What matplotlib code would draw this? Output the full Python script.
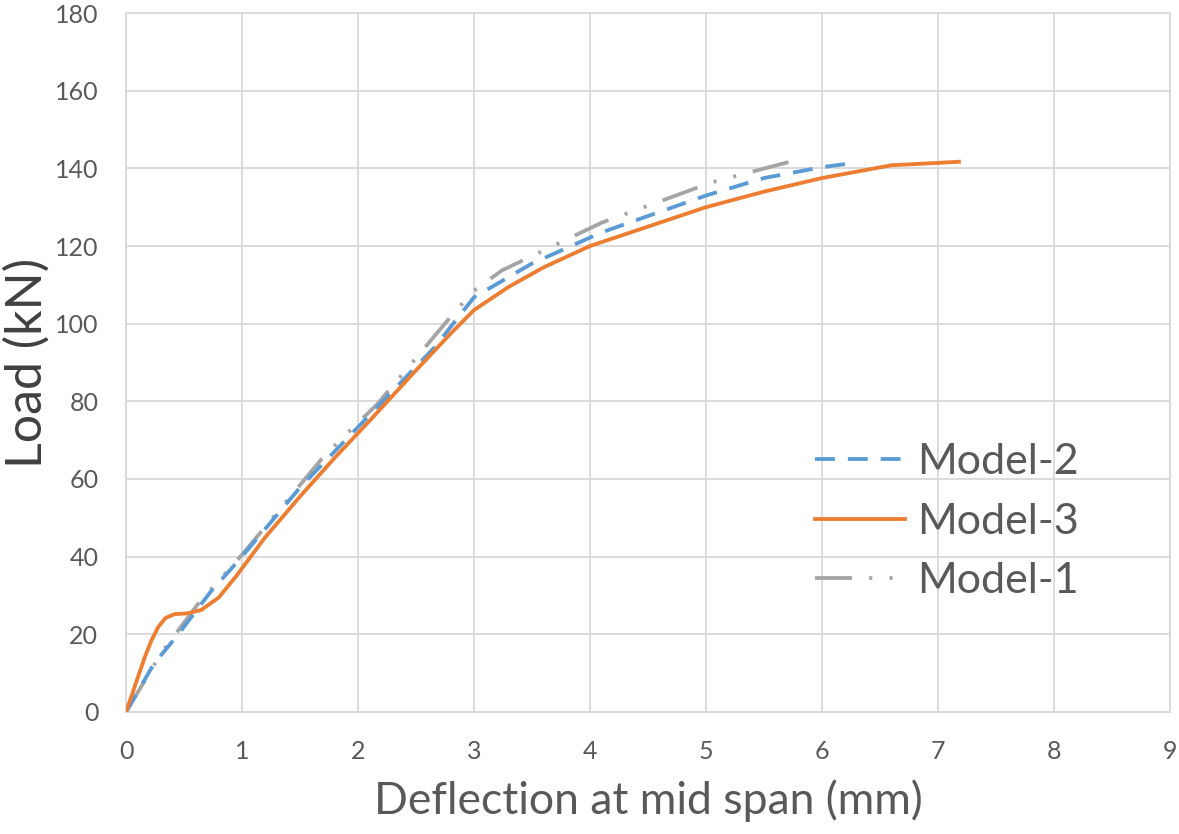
import matplotlib
matplotlib.use("Agg")
import matplotlib.pyplot as plt

# values
m3_x = [0, 0.08, 0.16, 0.22, 0.28, 0.34, 0.42, 0.53, 0.65, 0.8, 0.95, 1.2, 1.5, 1.8, 2.1,
        2.5, 2.8, 3.0, 3.3, 3.6, 4.0, 4.5, 5.0, 5.5, 6.0, 6.6, 7.0, 7.18]
m3_y = [0, 7, 14, 18.5, 22, 24.2, 25.2, 25.4, 26.3, 29.5, 35, 45, 55.5, 65.5, 75,
        88, 97.5, 103.5, 109.5, 114.5, 120, 125, 130, 134, 137.5, 140.8, 141.4, 141.7]

m2_x = [0, 0.24, 0.45, 0.73, 0.97, 1.5, 2.03, 2.66, 3.0, 3.5, 4.1, 5.0, 5.5, 6.0, 6.25]
m2_y = [0, 12.4, 20, 31, 39, 57.8, 74.3, 93.9, 106.8, 115.5, 123.5, 133, 137.5, 140.3, 141.3]

m1_x = [0, 0.3, 0.62, 1.0, 1.71, 2.17, 2.83, 3.0, 3.24, 4.1, 5.05, 5.71]
m1_y = [0, 15, 27.8, 40.5, 66, 79.4, 102.9, 108.5, 113.7, 126, 136.4, 141.6]

x_ticks = list(range(0, 10))
y_ticks = list(range(0, 181, 20))

plt.rcParams['font.family'] = ['Lato', 'DejaVu Sans']

fig = plt.figure(figsize=(11.79, 8.34), dpi=100)
ax = fig.add_axes([0.1069, 0.1463, 0.8855, 0.8381])

lw = 2.75
ax.plot(m2_x, m2_y, color='#5B9BD5', lw=lw, dashes=(5.2, 3.4), label='Model-2', zorder=3)
ax.plot(m3_x, m3_y, color='#ED7D31', lw=lw, label='Model-3', zorder=4)
ax.plot(m1_x, m1_y, color='#A5A5A5', lw=lw, dashes=(9.7, 4.5, 0.8, 4.5, 0.8, 4.5),
        label='Model-1', zorder=2)

ax.set_xlim(0, 9)
ax.set_ylim(0, 180)
ax.set_xticks(x_ticks)
ax.set_yticks(y_ticks)
ax.grid(True, color='#D9D9D9', lw=1.3)
ax.set_axisbelow(True)
for s in ax.spines.values():
    s.set_color('#D9D9D9')
    s.set_linewidth(1.3)
ax.tick_params(length=0, labelsize=18, labelcolor='#595959', pad=20)

ax.set_xlabel('Deflection at mid span (mm)', fontsize=32, color='#595959', labelpad=12)
ax.set_ylabel('Load (kN)', fontsize=36, color='#404040', labelpad=3)

ax.legend(loc='center left', bbox_to_anchor=(0.66, 0.272), frameon=False, fontsize=31,
          borderpad=0, borderaxespad=0, handlelength=2.1, handletextpad=0.28,
          labelspacing=0.5, labelcolor='#595959')

fig.savefig('out.png', dpi=100)
